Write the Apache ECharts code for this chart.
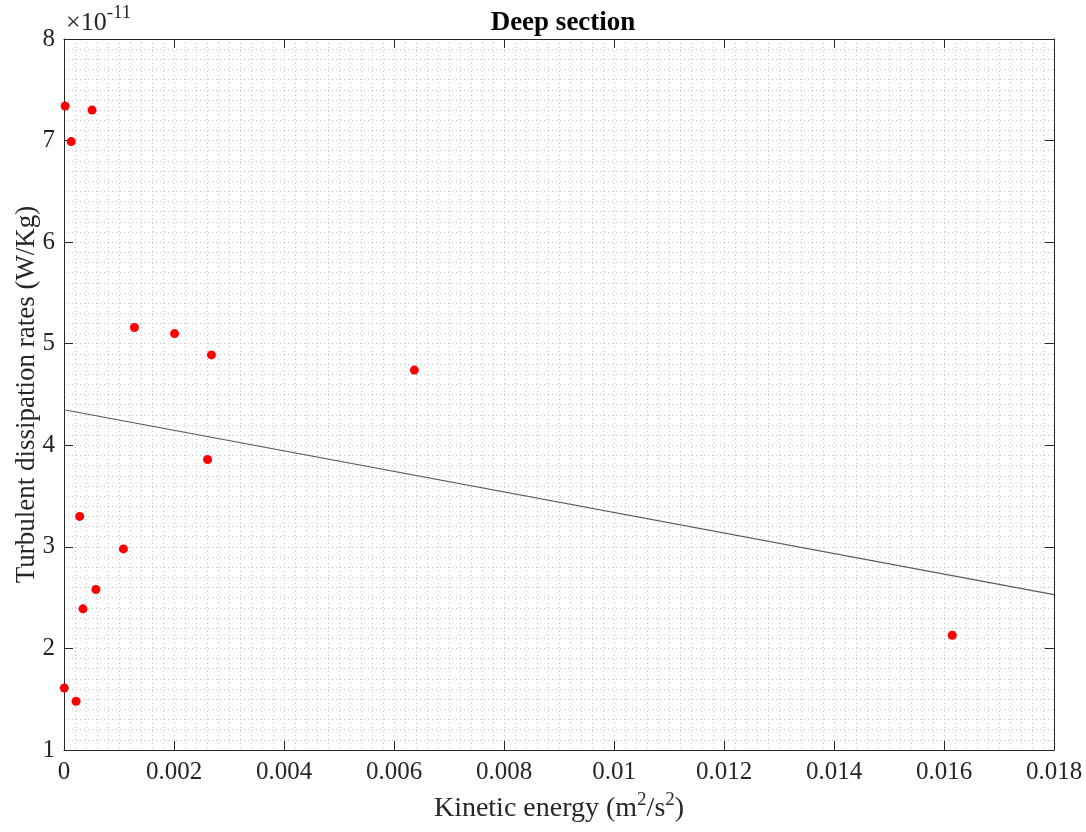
<!DOCTYPE html>
<html>
<head>
<meta charset="utf-8">
<script src="https://cdn.jsdelivr.net/npm/echarts@6/dist/echarts.min.js"></script>
<style>html,body{margin:0;padding:0;background:#fff}#c{width:1086px;height:832px}</style>
</head>
<body>
<div id="c"></div>
<script>
// Kinetic energy (m^2/s^2)
var kineticEnergy = [0.00002, 0.00051, 0.00013, 0.00128, 0.00201, 0.00268, 0.00637, 0.00261, 0.000285, 0.00108, 0.00058, 0.000345, 0.000005, 0.00022, 0.01615];
// Turbulent dissipation rates (x1e-11 W/Kg)
var dissipation = [7.34, 7.30, 6.99, 5.16, 5.10, 4.89, 4.74, 3.86, 3.30, 2.98, 2.58, 2.39, 1.61, 1.48, 2.13];
// Linear fit end points
var fitX = [0, 0.018];
var fitY = [4.35, 2.53];

var font = 'Liberation Serif';
var axisCol = '#262626';

var scatterData = kineticEnergy.map(function (x, i) { return [x, dissipation[i]]; });
var fitData = fitX.map(function (x, i) { return [x, fitY[i]]; });

var chart = echarts.init(document.getElementById('c'), null, {renderer: 'canvas'});
var gridLine = {show: true, lineStyle: {color: '#c4c4c4', type: [1, 3], width: 1}};
chart.setOption({
  animation: false,
  title: {
    text: 'Deep section', left: 558, top: 5, textAlign: 'center',
    textStyle: {fontFamily: font, fontWeight: 'bold', fontSize: 27, color: '#000'}
  },
  graphic: [{
    type: 'text', left: 66, top: 4,
    style: {
      text: '{a|×10}{s|-11}',
      rich: {
        a: {fontFamily: font, fontSize: 26, fill: axisCol, verticalAlign: 'bottom', lineHeight: 32},
        s: {fontFamily: font, fontSize: 19, fill: axisCol, verticalAlign: 'top', lineHeight: 32, padding: [0, 0, 12, 0]}
      }
    }
  }],
  grid: {left: 64, right: 32, top: 39, bottom: 82, containLabel: false, outerBoundsMode: 'none'},
  xAxis: [{
    type: 'value', min: 0, max: 0.018, interval: 0.002,
    name: '{a|Kinetic energy (m}{s|2}{a|/s}{s|2}{a|)}',
    nameLocation: 'middle', nameGap: 41,
    nameTextStyle: {
      rich: {
        a: {fontFamily: font, fontSize: 28, color: axisCol, verticalAlign: 'bottom', lineHeight: 32},
        s: {fontFamily: font, fontSize: 19, color: axisCol, verticalAlign: 'top', lineHeight: 32, padding: [0, 0, 12, 0]}
      }
    },
    axisLine: {show: true, onZero: false, lineStyle: {color: axisCol, width: 1}},
    axisTick: {show: true, inside: true, length: 9, lineStyle: {color: axisCol}},
    axisLabel: {fontFamily: font, fontSize: 25, color: axisCol, margin: 10},
    splitLine: gridLine,
    minorTick: {show: false, splitNumber: 10},
    minorSplitLine: gridLine
  }, {
    type: 'value', position: 'top', min: 0, max: 0.018, interval: 0.002,
    axisLine: {show: true, onZero: false, lineStyle: {color: axisCol, width: 1}},
    axisTick: {show: true, inside: true, length: 9, lineStyle: {color: axisCol}},
    axisLabel: {show: false}, splitLine: {show: false}
  }],
  yAxis: [{
    type: 'value', min: 1, max: 8, interval: 1,
    name: 'Turbulent dissipation rates (W/Kg)',
    nameLocation: 'middle', nameGap: 24, nameMoveOverlap: false,
    nameTextStyle: {fontFamily: font, fontSize: 27, color: axisCol},
    axisLine: {show: true, onZero: false, lineStyle: {color: axisCol, width: 1}},
    axisTick: {show: true, inside: true, length: 9, lineStyle: {color: axisCol}},
    axisLabel: {fontFamily: font, fontSize: 25, color: axisCol, margin: 9},
    splitLine: gridLine,
    minorTick: {show: false, splitNumber: 10},
    minorSplitLine: gridLine
  }, {
    type: 'value', position: 'right', min: 1, max: 8, interval: 1,
    axisLine: {show: true, onZero: false, lineStyle: {color: axisCol, width: 1}},
    axisTick: {show: true, inside: true, length: 9, lineStyle: {color: axisCol}},
    axisLabel: {show: false}, splitLine: {show: false}
  }],
  series: [{
    type: 'line', data: fitData, symbol: 'none',
    lineStyle: {color: '#5a5a5a', width: 1.2}, z: 3
  }, {
    type: 'scatter', data: scatterData, symbol: 'circle', symbolSize: 9,
    itemStyle: {color: '#ff0000', opacity: 1}, z: 4
  }]
});
</script>
</body>
</html>
